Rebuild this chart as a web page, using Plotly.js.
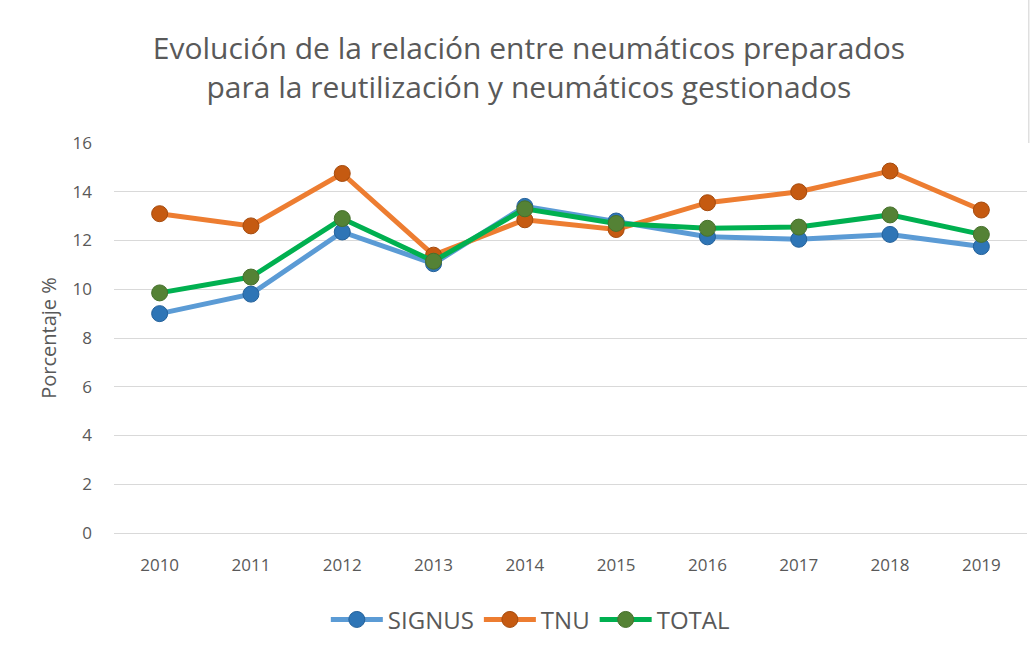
<!DOCTYPE html>
<html>
<head>
<meta charset="utf-8">
<script src="https://cdn.plot.ly/plotly-3.0.1.min.js"></script>
<style>html,body{margin:0;padding:0;background:#fff;}#chart{width:1031px;height:663px;}</style>
</head>
<body>
<div id="chart"></div>
<script>
const years = ['2010','2011','2012','2013','2014','2015','2016','2017','2018','2019'];
const signus = [9.0, 9.8, 12.35, 11.05, 13.4, 12.8, 12.15, 12.05, 12.25, 11.75];
const tnu = [13.1, 12.6, 14.75, 11.4, 12.85, 12.45, 13.55, 14.0, 14.85, 13.25];
const total = [9.85, 10.5, 12.9, 11.15, 13.3, 12.7, 12.5, 12.55, 13.05, 12.25];
const seriesNames = ['SIGNUS', 'TNU', 'TOTAL'];
const yTicks = [0, 2, 4, 6, 8, 10, 12, 14, 16];

const FONT = 'Open Sans, Noto Sans, sans-serif';
function trace(name, y, lineColor, markerColor, borderColor) {
  return {
    type: 'scatter', mode: 'lines+markers', name: name,
    x: years, y: y,
    line: {color: lineColor, width: 5},
    marker: {size: 16, color: markerColor, line: {color: borderColor, width: 1}},
    cliponaxis: false
  };
}
const data = [
  trace(seriesNames[0], signus, '#5b9bd5', '#2e75b6', '#24619a'),
  trace(seriesNames[1], tnu, '#ed7d31', '#c55a11', '#a54b0e'),
  trace(seriesNames[2], total, '#00b050', '#548235', '#46702c')
];
const layout = {
  width: 1031, height: 663,
  paper_bgcolor: '#ffffff', plot_bgcolor: '#ffffff',
  margin: {l: 114, r: 4, t: 143, b: 130},
  title: {
    text: 'Evolución de la relación entre neumáticos preparados<br>para la reutilización y neumáticos gestionados',
    font: {family: FONT, size: 30, color: '#595959'},
    x: 0.513, xanchor: 'center', y: 0.911, yanchor: 'top', yref: 'container'
  },
  xaxis: {
    type: 'category', range: [-0.5, 9.5],
    showgrid: false, zeroline: false, showline: false, ticks: '',
    tickfont: {family: FONT, size: 17, color: '#595959'},
    ticklabelstandoff: 20, fixedrange: true
  },
  yaxis: {
    range: [0, 16], tickvals: yTicks, ticktext: yTicks.map(String),
    showgrid: true, gridcolor: '#d9d9d9', gridwidth: 1,
    zeroline: true, zerolinecolor: '#d9d9d9', zerolinewidth: 1,
    showline: false, ticks: '',
    tickfont: {family: FONT, size: 17, color: '#595959'},
    ticklabelstandoff: 21,
    title: {text: 'Porcentaje %', font: {family: FONT, size: 20, color: '#595959'}, standoff: 10},
    fixedrange: true
  },
  showlegend: true,
  legend: {
    orientation: 'h', x: 0.456, xanchor: 'center', y: -0.165, yanchor: 'top',
    font: {family: FONT, size: 24, color: '#595959'},
    itemwidth: 52, traceorder: 'normal'
  },
  shapes: [
    {type: 'line', xref: 'paper', yref: 'paper', x0: 1.002, x1: 1.002, y0: 1.0, y1: 1.37, line: {color: '#d0d0d0', width: 1}}
  ]
};
Plotly.newPlot('chart', data, layout, {displayModeBar: false, staticPlot: true});
</script>
</body>
</html>
